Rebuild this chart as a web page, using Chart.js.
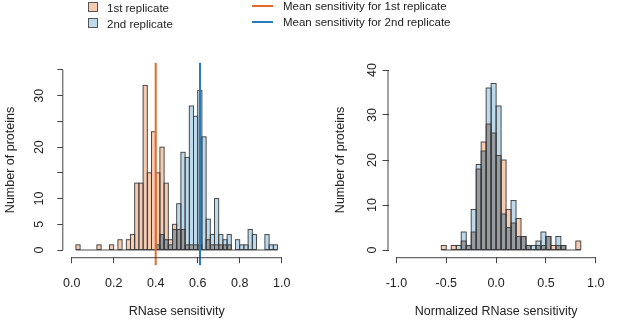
<!DOCTYPE html>
<html lang="en">
<head>
<meta charset="UTF-8">
<title>RNase sensitivity histograms</title>
<script src="https://cdn.jsdelivr.net/npm/chart.js"></script>
<style>
  body { margin: 0; background: #fff; }
  #wrap { position: relative; width: 617px; height: 323px; overflow: hidden;
          font-family: "Liberation Sans", Arial, Helvetica, sans-serif; color: #222; }
  #left { position: absolute; left: 0; top: 0; }
  #right { position: absolute; left: 308px; top: 0; }
  .key { position: absolute; font-size: 11.5px; line-height: 12px; white-space: nowrap; }
  .box { position: absolute; width: 8px; height: 8px; border: 1px solid #555; }
  .bar { position: absolute; width: 21px; height: 2px; }
</style>
</head>
<body>
<div id="wrap">
  <canvas id="left" width="308" height="323"></canvas>
  <canvas id="right" width="309" height="323"></canvas>
  <div id="legend"></div>
</div>
<script>
// ---- data ----
const leftBreaks = [0.00,0.02,0.04,0.06,0.08,0.10,0.12,0.14,0.16,0.18,0.20,0.22,0.24,0.26,0.28,0.30,0.32,0.34,0.36,0.38,
                    0.40,0.42,0.44,0.46,0.48,0.50,0.52,0.54,0.56,0.58,0.60,0.62,0.64,0.66,0.68,0.70,0.72,0.74,0.76,0.78,
                    0.80,0.82,0.84,0.86,0.88,0.90,0.92,0.94,0.96,0.98,1.00];
const leftFirst  = [0,1,0,0,0,0,1,0,0,1,0,2,0,2,3,13,13,32,15,23,15,20,13,2,5,4,4,1,1,1,1,0,2,1,1,1,1,1,0,0,0,0,0,0,0,0,0,0,0,0];
const leftSecond = [0,0,0,0,0,0,0,0,0,0,0,0,0,0,0,0,0,0,0,0,1,3,2,1,4,9,19,18,28,26,31,22,6,3,10,3,2,3,0,2,1,1,4,3,0,0,3,1,1,0];
const leftMeans  = [0.40, 0.611];
const leftXTicks = [0, 0.2, 0.4, 0.6, 0.8, 1.0];
const leftYTicks = [0, 5, 10, 15, 20, 25, 30, 35];
const leftYLabels = ['0', '5', '10', '', '20', '', '30', ''];

const rightBreaks = [-1.00,-0.95,-0.90,-0.85,-0.80,-0.75,-0.70,-0.65,-0.60,-0.55,-0.50,-0.45,-0.40,-0.35,-0.30,-0.25,-0.20,-0.15,-0.10,-0.05,
                     0.00,0.05,0.10,0.15,0.20,0.25,0.30,0.35,0.40,0.45,0.50,0.55,0.60,0.65,0.70,0.75,0.80,0.85,0.90,0.95,1.00];
const rightFirst  = [0,0,0,0,0,0,0,0,0,1,0,1,0,2,1,4,18,24,28,26,21,20,9,6,7,3,1,0,1,1,3,1,1,1,0,0,2,0,0,0];
const rightSecond = [0,0,0,0,0,0,0,0,0,0,0,0,1,4,1,9,19,22,36,37,32,8,5,11,3,3,1,1,2,4,3,0,3,1,0,0,0,0,0,0];
const rightXTicks = [-1.0, -0.5, 0.0, 0.5, 1.0];
const rightYTicks = [0, 10, 20, 30, 40];

const seriesNames = ['1st replicate', '2nd replicate'];
const meanNames = ['Mean sensitivity for 1st replicate', 'Mean sensitivity for 2nd replicate'];

// ---- look ----
const fillFirst = '#F6CBB2';
const fillSecond = '#BCDAEC';
const fillBoth = '#979CA0';
const edge = '#3a3a3a';
const meanColors = ['#E4692A', '#2B7BB9'];

Chart.defaults.font.family = '"Liberation Sans", Arial, Helvetica, sans-serif';
Chart.defaults.font.size = 12.5;
Chart.defaults.color = '#222';

function toPoints(breaks, counts) {
  return counts.map((c, i) => ({ x: (breaks[i] + breaks[i + 1]) / 2, y: c }));
}

// outlines like R's hist(), plus baseline, mean lines and the short R-style axis lines
const histExtras = {
  id: 'histExtras',
  afterDatasetsDraw(chart, args, opts) {
    const { ctx, chartArea, scales: { x, y } } = chart;
    ctx.save();
    ctx.strokeStyle = edge;
    ctx.lineWidth = 0.9;
    chart.data.datasets.forEach((ds, i) => {
      if (!ds.outline) return;
      chart.getDatasetMeta(i).data.forEach(bar => {
        const p = bar.getProps(['x', 'y', 'base', 'width'], true);
        if (Math.abs(p.base - p.y) < 0.5) return;
        ctx.strokeRect(p.x - p.width / 2, p.y, p.width, p.base - p.y);
      });
    });
    const y0 = y.getPixelForValue(0);
    ctx.beginPath();
    ctx.moveTo(x.getPixelForValue(opts.from), y0);
    ctx.lineTo(x.getPixelForValue(opts.to), y0);
    ctx.stroke();

    (opts.means || []).forEach((m, k) => {
      const px = x.getPixelForValue(m);
      ctx.strokeStyle = meanColors[k];
      ctx.lineWidth = 2;
      ctx.beginPath();
      ctx.moveTo(px, chartArea.top);
      ctx.lineTo(px, chartArea.bottom + 8);
      ctx.stroke();
    });

    ctx.strokeStyle = '#444';
    ctx.lineWidth = 1;
    const xt = opts.xTicks, yt = opts.yTicks;
    ctx.beginPath();
    ctx.moveTo(x.getPixelForValue(xt[0]), chartArea.bottom + 0.5);
    ctx.lineTo(x.getPixelForValue(xt[xt.length - 1]), chartArea.bottom + 0.5);
    ctx.moveTo(chartArea.left - 0.5, y.getPixelForValue(yt[0]));
    ctx.lineTo(chartArea.left - 0.5, y.getPixelForValue(yt[yt.length - 1]));
    ctx.stroke();
    ctx.restore();
  }
};

function firstLast(breaks, a, b) {
  let lo = -1, hi = -1;
  a.forEach((v, i) => { if (v > 0 || b[i] > 0) { if (lo < 0) lo = i; hi = i; } });
  return [breaks[lo], breaks[hi + 1]];
}

function makeHist(id, cfg) {
  const both = cfg.first.map((v, i) => Math.min(v, cfg.second[i]));
  const [from, to] = firstLast(cfg.breaks, cfg.first, cfg.second);
  const barOpts = { grouped: false, barPercentage: 1, categoryPercentage: 1, borderWidth: 0, inflateAmount: 0 };
  return new Chart(document.getElementById(id), {
    type: 'bar',
    data: {
      datasets: [
        { label: seriesNames[0], data: toPoints(cfg.breaks, cfg.first), backgroundColor: fillFirst, order: 3, outline: true, ...barOpts },
        { label: seriesNames[1], data: toPoints(cfg.breaks, cfg.second), backgroundColor: fillSecond, order: 2, outline: true, ...barOpts },
        { label: 'overlap', data: toPoints(cfg.breaks, both), backgroundColor: fillBoth, order: 1, ...barOpts }
      ]
    },
    options: {
      responsive: false,
      animation: false,
      layout: { padding: { top: 62.8, right: cfg.padRight, bottom: 0, left: 0 } },
      plugins: {
        legend: { display: false },
        tooltip: { enabled: false },
        histExtras: { from, to, means: cfg.means, xTicks: cfg.xTicks, yTicks: cfg.yTicks }
      },
      scales: {
        x: {
          type: 'linear', min: cfg.xMin, max: cfg.xMax, offset: false,
          afterBuildTicks: s => { s.ticks = cfg.xTicks.map(v => ({ value: v })); },
          afterFit: s => { s.height = 65.8; },
          ticks: { padding: 12.5, autoSkip: false, maxRotation: 0, callback: v => v.toFixed(1) },
          grid: { offset: false, drawOnChartArea: false, tickLength: 6, tickColor: '#444', tickWidth: 1 },
          border: { display: false },
          title: { display: true, text: cfg.xTitle, padding: { top: 0, bottom: 3.5 } }
        },
        y: {
          min: cfg.yMin, max: cfg.yMax, offset: false,
          afterBuildTicks: s => { s.ticks = cfg.yTicks.map(v => ({ value: v })); },
          afterFit: s => { s.width = cfg.yWidth; },
          ticks: { padding: cfg.yPad, autoSkip: false, minRotation: 90, maxRotation: 90, crossAlign: 'center',
                   callback: (v, i) => cfg.yLabels[i] },
          grid: { offset: false, drawOnChartArea: false, tickLength: 6, tickColor: '#444', tickWidth: 1 },
          border: { display: false },
          title: { display: true, text: 'Number of proteins', padding: { top: cfg.yTitlePad, bottom: 0 } }
        }
      }
    },
    plugins: [histExtras]
  });
}

makeHist('left', {
  breaks: leftBreaks, first: leftFirst, second: leftSecond, means: leftMeans,
  xTicks: leftXTicks, yTicks: leftYTicks, yLabels: leftYLabels,
  xMin: -0.04, xMax: 1.04, yMin: -1.4, yMax: 36.4,
  yWidth: 63.3, padRight: 17.9, yPad: 11, yTitlePad: 3, xTitle: 'RNase sensitivity'
});

makeHist('right', {
  breaks: rightBreaks, first: rightFirst, second: rightSecond, means: [],
  xTicks: rightXTicks, yTicks: rightYTicks, yLabels: rightYTicks.map(String),
  xMin: -1.08, xMax: 1.08, yMin: -1.6, yMax: 41.6,
  yWidth: 80.5, padRight: 2, yPad: 3, yTitlePad: 25.5, xTitle: 'Normalized RNase sensitivity'
});

// legend across the top
const legend = document.getElementById('legend');
const boxFills = [fillFirst, fillSecond];
seriesNames.forEach((name, i) => {
  const top = i === 0 ? 1.5 : 17.5;
  legend.insertAdjacentHTML('beforeend',
    `<div class="box" style="left:88px;top:${top}px;background:${boxFills[i]}"></div>` +
    `<div class="key" style="left:107px;top:${top}px">${name}</div>`);
});
meanNames.forEach((name, i) => {
  const mid = i === 0 ? 5.7 : 21.7;
  legend.insertAdjacentHTML('beforeend',
    `<div class="bar" style="left:252px;top:${mid - 1}px;background:${meanColors[i]}"></div>` +
    `<div class="key" style="left:283px;top:${mid - 6}px">${name}</div>`);
});
</script>
</body>
</html>
